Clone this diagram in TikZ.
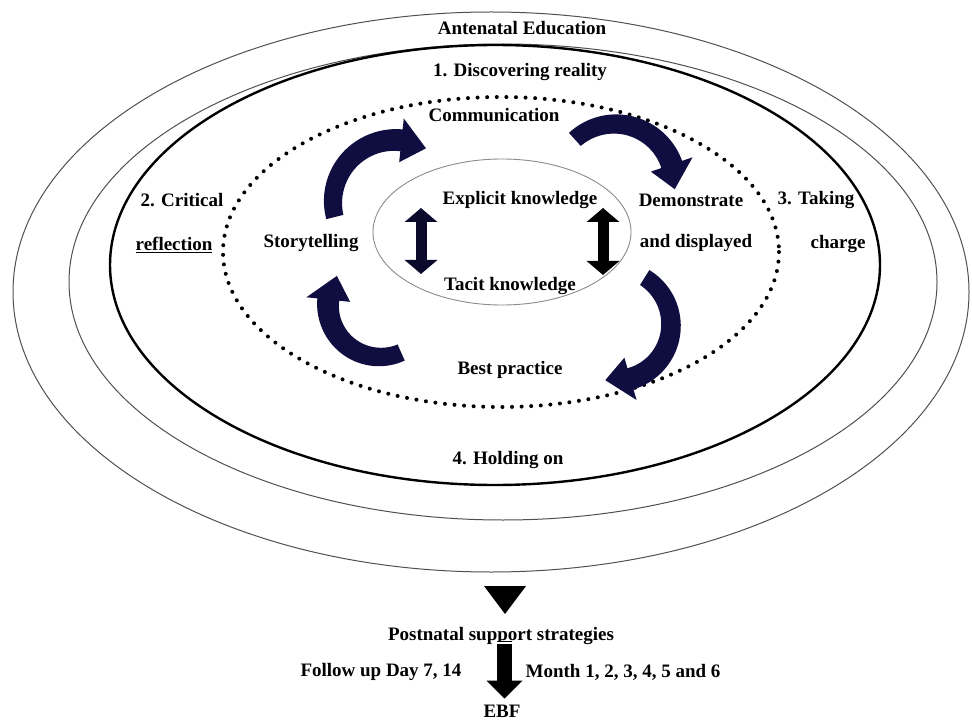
\documentclass[tikz,border=0pt]{standalone}
\usepackage{fontspec}
\setmainfont{Liberation Serif}
\usetikzlibrary{arrows.meta}

\definecolor{navy}{RGB}{16,14,64}
\definecolor{ringgray}{RGB}{80,80,80}
\definecolor{coregray}{RGB}{140,140,140}

% curved block arrow: centre x, centre y, radius, tail angle, tip angle,
% body half width, head half width, head length (degrees);
% the body widens slightly from the tail towards the head
\newcommand{\bendarrow}[8]{%
  \begin{scope}[shift={(#1,#2)}]
    \pgfmathsetmacro\ahead{#5-#8}
    \fill[bendfill]
      plot[domain=#4:\ahead, samples=40] (\x:{#3+#6*(0.8+0.2*(\x-#4)/(\ahead-#4))})
      -- (\ahead:{#3+#7}) -- (#5:#3) -- (\ahead:{#3-#7})
      -- plot[domain=\ahead:#4, samples=40] (\x:{#3-#6*(0.8+0.2*(\x-#4)/(\ahead-#4))}) -- cycle;
  \end{scope}}

\tikzset{
  lbl/.style={font=\bfseries\fontsize{19}{21}\selectfont, inner sep=0pt},
  ring/.style={draw=ringgray, line width=1pt},
  thickring/.style={draw=black, line width=2.4pt},
  dotring/.style={draw=black, line width=4pt, line cap=round, dash pattern=on 0pt off 9.6pt},
  corering/.style={draw=coregray, line width=0.9pt},
  bendfill/.style={fill=navy},
  twoway/.style={line width=11pt, {Triangle[width=32pt,length=14pt]}-{Triangle[width=32pt,length=14pt]}},
  fatarrow/.style={line width=15pt, -{Triangle[width=35pt,length=18pt]}},
}

\begin{document}
\begin{tikzpicture}[x=1pt, y=-1pt]
  \useasboundingbox[fill=white] (0,0) rectangle (972,722);

  % nested rings
  \draw[ring] (491,292) ellipse[x radius=478, y radius=280];
  \draw[ring] (503,282) ellipse[x radius=434, y radius=238];
  \draw[thickring] (495,265) ellipse[x radius=385, y radius=220];
  \draw[dotring] (501,252) ellipse[x radius=278, y radius=155];
  \draw[corering] (502,232) ellipse[x radius=129, y radius=73];

  % ring labels
  \node[lbl] (ante) at (522,28) {Antenatal Education};
  \node[lbl] (disc) at (520,72) {1. Discovering reality};
  \node[lbl] (crit) at (182,200) {2. Critical};
  \node[lbl] (refl) at (174,245) {\underline{reflection}};
  \node[lbl] (take) at (816,200) {3. Taking};
  \node[lbl] (chrg) at (838,244) {charge};
  \node[lbl] (hold) at (508,460) {4. Holding on};

  % cycle labels
  \node[lbl] (comm) at (494,115) {Communication};
  \node[lbl] (story) at (311,243) {Storytelling};
  \node[lbl] (demo) at (691,200) {Demonstrate};
  \node[lbl] (disp) at (696,243) {and displayed};
  \node[lbl] (best) at (510,370) {Best practice};
  \node[lbl] (expl) at (520,200) {Explicit knowledge};
  \node[lbl] (tacit) at (510,286) {Tacit knowledge};

  % clockwise cycle of curved arrows
  \bendarrow{395}{202}{62}{166}{300}{11}{22}{24}
  \bendarrow{615}{184}{60}{228}{365}{11}{22}{24}
  \bendarrow{615}{325}{56}{-58}{100}{11}{22}{26}
  \bendarrow{380}{305}{52}{66}{214}{11}{22}{28}

  % exchange between explicit and tacit knowledge
  \coordinate (lt) at (421,208);
  \coordinate (lb) at (421,274);
  \coordinate (rt) at (603,208);
  \coordinate (rb) at (603,275);
  \draw[twoway, draw=navy!70!black] (lt) -- (lb);
  \draw[twoway, draw=black] (rt) -- (rb);

  % follow-up after birth
  \fill[black] (484,586) -- (526,586) -- (505,614) -- cycle;
  \node[lbl] (post) at (501,636) {Postnatal support strategies};
  \node[lbl] (fday) at (381,672) {Follow up Day 7, 14};
  \node[lbl] (fmon) at (623,672) {Month 1, 2, 3, 4, 5 and 6};
  \node[lbl] (ebf) at (502,711) {EBF};
  \draw[fatarrow] ([xshift=3.5pt, yshift=4pt]post.south) -- ([xshift=2.5pt, yshift=6pt]ebf.north);
  \fill[white] (496,642) rectangle (513,643.5);
\end{tikzpicture}
\end{document}
